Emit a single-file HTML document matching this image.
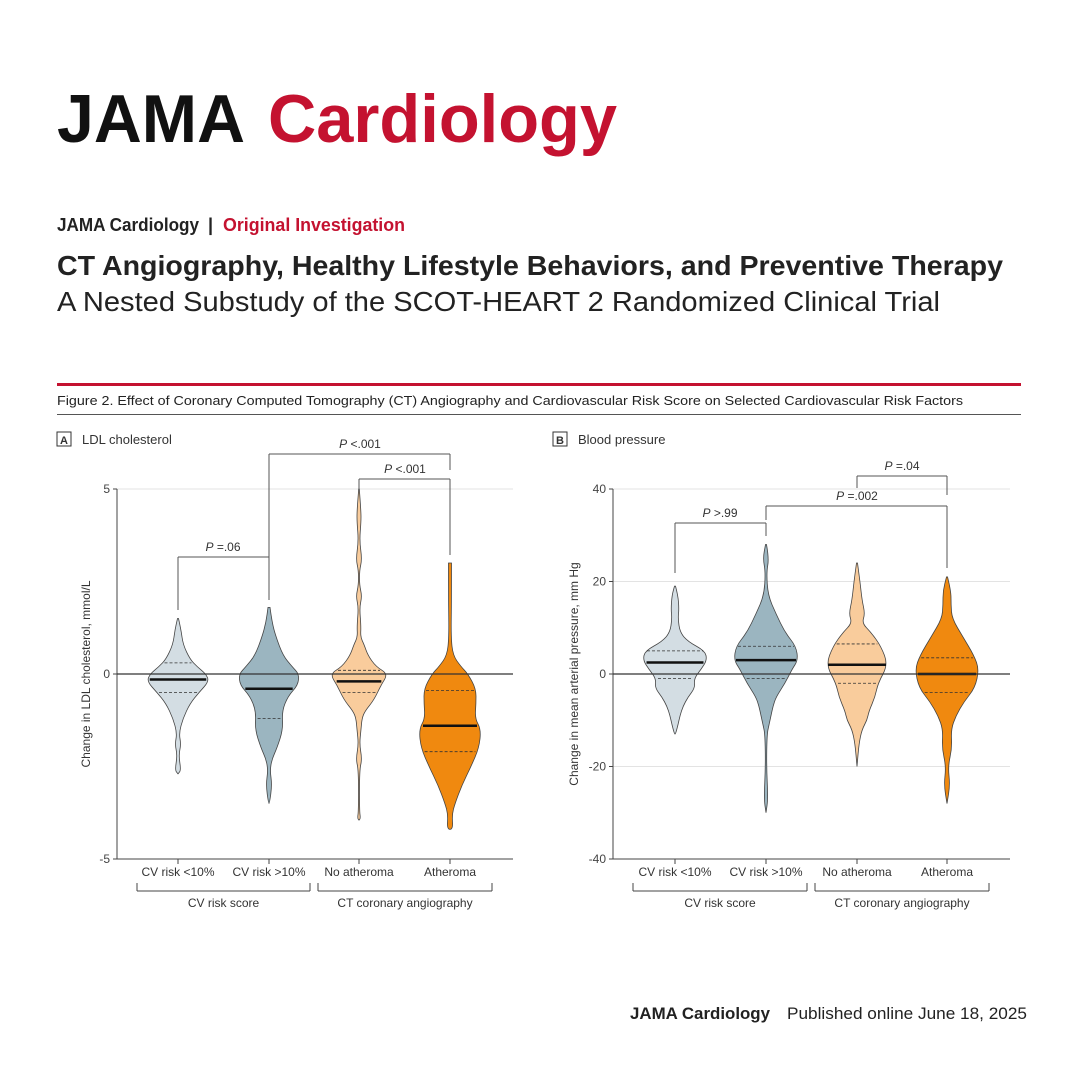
<!DOCTYPE html>
<html><head><meta charset="utf-8"><style>
html,body{margin:0;padding:0;background:#fff}
svg{display:block}
text{font-family:"Liberation Sans",sans-serif}
</style></head><body>
<svg id="s" width="1080" height="1080" viewBox="0 0 1080 1080" xmlns="http://www.w3.org/2000/svg">
<rect width="1080" height="1080" fill="#fff"/>
<text x="57" y="142" font-size="68" font-weight="bold" textLength="188" lengthAdjust="spacingAndGlyphs" fill="#111">JAMA</text>
<text x="268" y="142" font-size="68" font-weight="bold" textLength="349" lengthAdjust="spacingAndGlyphs" fill="#c41230">Cardiology</text>
<text x="57" y="231" font-size="18" font-weight="bold" textLength="142" lengthAdjust="spacingAndGlyphs" fill="#222">JAMA Cardiology</text>
<text x="208" y="231" font-size="18" font-weight="bold" fill="#222">|</text>
<text x="223" y="231" font-size="18" font-weight="bold" textLength="182" lengthAdjust="spacingAndGlyphs" fill="#c41230">Original Investigation</text>
<text x="57" y="275" font-size="28" textLength="946" lengthAdjust="spacingAndGlyphs" fill="#222" font-weight="bold">CT Angiography, Healthy Lifestyle Behaviors, and Preventive Therapy</text>
<text x="57" y="311" font-size="28" textLength="883" lengthAdjust="spacingAndGlyphs" fill="#222">A Nested Substudy of the SCOT-HEART 2 Randomized Clinical Trial</text>
<rect x="57" y="383" width="964" height="3" fill="#c41230"/>
<text x="57" y="405" font-size="13" textLength="906" lengthAdjust="spacingAndGlyphs" fill="#222">Figure 2. Effect of Coronary Computed Tomography (CT) Angiography and Cardiovascular Risk Score on Selected Cardiovascular Risk Factors</text>
<rect x="57" y="414" width="964" height="1" fill="#555"/>
<text x="630" y="1019" font-size="17" font-weight="bold" textLength="140" lengthAdjust="spacingAndGlyphs" fill="#222">JAMA Cardiology</text>
<text x="787" y="1019" font-size="17" textLength="240" lengthAdjust="spacingAndGlyphs" fill="#222">Published online June 18, 2025</text>
<g id="charts"></g>
</svg>
<script>
var NS="http://www.w3.org/2000/svg",G=document.getElementById("charts");
function el(t,a,txt){var e=document.createElementNS(NS,t);for(var k in a)e.setAttribute(k,a[k]);if(txt!=null)e.textContent=txt;G.appendChild(e);return e;}
function line(x1,y1,x2,y2,c,w,d){var a={x1:x1,y1:y1,x2:x2,y2:y2,stroke:c||"#444","stroke-width":w||1};if(d)a["stroke-dasharray"]=d;el("line",a);}
function txt(x,y,s,o){o=o||{};var a={x:x,y:y,"font-size":o.fs||12,fill:o.fill||"#333","text-anchor":o.a||"middle"};if(o.tr)a.transform=o.tr;if(o.fw)a["font-weight"]=o.fw;el("text",a,s);}
function violin(cx,Y,pts,fill,med,q1,q2){
 var R=[],L=[];
 pts.forEach(function(p){R.push([cx+p[1],Y(p[0])]);L.push([cx-p[1],Y(p[0])]);});
 var all=R.concat(L.reverse());
 function smooth(P){var d="M"+P[0][0]+","+P[0][1];for(var i=1;i<P.length-1;i++){var mx=(P[i][0]+P[i+1][0])/2,my=(P[i][1]+P[i+1][1])/2;d+=" Q"+P[i][0]+","+P[i][1]+" "+mx+","+my;}d+=" L"+P[P.length-1][0]+","+P[P.length-1][1]+"Z";return d;}
 el("path",{d:smooth(all),fill:fill,stroke:"#444","stroke-width":0.8});
 function wAt(v){for(var i=0;i<pts.length-1;i++){var a=pts[i],b=pts[i+1];if(v<=a[0]&&v>=b[0]){var t=(a[0]-v)/(a[0]-b[0]||1);return a[1]+(b[1]-a[1])*t;}}return 0;}
 [q1,q2].forEach(function(q){var w=wAt(q)-2;line(cx-w,Y(q),cx+w,Y(q),"#333",0.8,"3,2");});
 var w=wAt(med)-2;line(cx-w,Y(med),cx+w,Y(med),"#111",2.5);
}
function panel(o){
 var x0=o.x0,x1=o.x1,Y=o.Y;
 el("rect",{x:o.bx,y:432,width:14,height:14,fill:"none",stroke:"#333","stroke-width":1});
 txt(o.bx+7,444,o.letter,{fs:11,fw:"bold"});
 txt(o.bx+25,444,o.title,{fs:13,a:"start"});
 o.grid.forEach(function(v){line(x0,Y(v),x1,Y(v),"#e3e3e3",1);});
 o.ticks.forEach(function(v){line(x0-4,Y(v),x0,Y(v),"#444");txt(x0-7,Y(v)+4,v==0?"0":(v<0?"-"+(-v):""+v),{fs:12,a:"end",fill:"#444"});});
 line(x0,489,x0,859,"#444");line(x0,859,x1,859,"#444");
 txt(o.yl[0],674,o.ylabel,{fs:12,tr:"rotate(-90 "+o.yl[0]+" 674)"});
 o.c.forEach(function(c,i){line(c,859,c,864,"#444");txt(c,876,o.cats[i],{fs:12,fill:"#333"});});
 o.v.forEach(function(v){violin(v[0],Y,v[1],v[2],v[3],v[4],v[5]);});
 line(x0,674,x1,674,"#333",1.3);
 o.gb.forEach(function(g){line(g[0],883,g[0],891,"#444");line(g[1],883,g[1],891,"#444");line(g[0],891,g[1],891,"#444");txt((g[0]+g[1])/2,907,g[2],{fs:12});});
 o.br.forEach(function(b){line(b[0],b[2],b[0],b[4],"#555");line(b[1],b[2],b[1],b[5],"#555");line(b[0],b[2],b[1],b[2],"#555");
  var e=el("text",{x:b[6],y:b[2]-6,"font-size":12,fill:"#333","text-anchor":"middle"});
  var t=document.createElementNS(NS,"tspan");t.setAttribute("font-style","italic");t.textContent="P";e.appendChild(t);e.appendChild(document.createTextNode(b[3]));});
}
var YA=function(v){return 674-v*37},YB=function(v){return 674-v*4.625};
var cats=["CV risk <10%","CV risk >10%","No atheroma","Atheroma"];
panel({x0:117,x1:513,Y:YA,bx:57,letter:"A",title:"LDL cholesterol",grid:[5],ticks:[5,0,-5],yl:[90],ylabel:"Change in LDL cholesterol, mmol/L",cats:cats,c:[178,269,359,450],
 gb:[[137,310,"CV risk score"],[318,492,"CT coronary angiography"]],
 br:[[178,269,557," =.06",610,600,223],[269,450,454," <.001",557,470,360],[359,450,479," <.001",489,555,405]],
 v:[[178,[[1.5,0.5],[1.2,3],[0.8,5],[0.4,12],[0.2,19],[0,28],[-0.2,31],[-0.5,21],[-0.8,12],[-1.2,5],[-1.6,1],[-1.9,3],[-2.2,0.7],[-2.6,3],[-2.7,0]],"#d3dde3",-0.15,0.3,-0.5],
    [269,[[1.8,1],[1.4,3],[1.0,7],[0.5,14],[0.2,23],[0,30],[-0.3,29],[-0.6,19],[-1.0,13],[-1.5,14],[-2.0,8],[-2.3,3],[-2.6,1],[-3.0,3],[-3.5,0.5]],"#9bb5c0",-0.4,0,-1.2],
    [359,[[5,0.3],[4.4,2],[4.1,2],[3.6,0.5],[3.1,3],[2.8,0.5],[2.4,0.5],[2.1,3],[1.8,0.5],[1.3,2],[1.0,1.5],[0.8,5],[0.5,9],[0.2,17],[0,29],[-0.3,22],[-0.7,15],[-1.0,6],[-1.2,3],[-1.5,2],[-1.9,0.5],[-2.3,3],[-2.6,0.5],[-3.7,0.5],[-3.9,1.5],[-3.95,0]],"#f9cc9c",-0.2,0.1,-0.5],
    [450,[[3.0,1.5],[2.0,1.5],[1.0,1],[0.5,3],[0.2,11],[0,18],[-0.4,26],[-0.8,26],[-1.2,25],[-1.5,31],[-2.0,29],[-2.5,21],[-3.0,12],[-3.5,5],[-3.8,2],[-4.2,3]],"#f0890f",-1.4,-0.45,-2.1]]});
panel({x0:613,x1:1010,Y:YB,bx:553,letter:"B",title:"Blood pressure",grid:[40,20,-20],ticks:[40,20,0,-20,-40],yl:[578],ylabel:"Change in mean arterial pressure, mm Hg",cats:cats,c:[675,766,857,947],
 gb:[[633,807,"CV risk score"],[815,989,"CT coronary angiography"]],
 br:[[675,766,523," >.99",573,536,720],[766,947,506," =.002",520,568,857],[857,947,476," =.04",488,495,902]],
 v:[[675,[[19,0.5],[17,3],[14,4],[12,3],[9,5],[7,13],[5,30],[3,32],[1,26],[-1,19],[-3,20],[-5,13],[-7,8],[-9,5],[-11,3],[-13,0.5]],"#d3dde3",2.5,5,-1],
    [766,[[28,0.5],[25,3],[22,0.5],[17,2],[13,10],[9,19],[6,30],[3,32],[1,26],[-2,19],[-5,10],[-7,7],[-9,5],[-11,3],[-13,1],[-20,0.5],[-27,2],[-30,0]],"#9bb5c0",3,6,-1],
    [857,[[24,0.5],[20,3],[16,5],[13,8],[11,5],[9,14],[6,24],[2,31],[-2,21],[-5,18],[-8,12],[-10,10],[-12,5],[-15,2],[-20,0]],"#f9cc9c",2,6.5,-2],
    [947,[[21,0.5],[18,4],[15,4],[12,5],[8,16],[4,27],[1,32],[-3,28],[-6,17],[-9,9],[-12,4],[-16,5],[-20,1],[-24,3],[-28,0]],"#f0890f",0,3.5,-4]]});
</script>
</body></html>
